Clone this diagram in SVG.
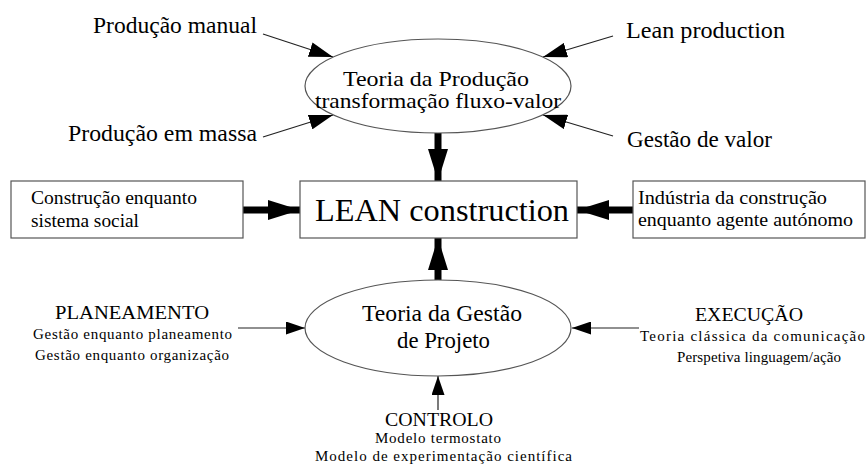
<svg xmlns="http://www.w3.org/2000/svg" width="867" height="470" viewBox="0 0 867 470" font-family="'Liberation Serif', serif">
<defs>
<style>
text{font-family:'Liberation Serif','Times New Roman',serif;fill:#000}
.node{fill:#fff;stroke:#555;stroke-width:1.2}
.thin{stroke:#222;stroke-width:1.2;fill:none}
.thick{stroke:#000;stroke-width:7;fill:none}
.big{font-size:23.5px}
.ell{font-size:21px}
.box{font-size:19.5px}
.hd{font-size:18px}
.sm{font-size:15px}
</style>
<marker id="ahl" markerWidth="24" markerHeight="15" refX="24" refY="7.5" orient="auto" markerUnits="userSpaceOnUse">
<path d="M0,0 L24,7.5 L0,15 Z" fill="#000"/>
</marker>
<marker id="ah" markerWidth="19" markerHeight="13" refX="19" refY="6.5" orient="auto" markerUnits="userSpaceOnUse">
<path d="M0,0 L19,6.5 L0,13 Z" fill="#000"/>
</marker>
<marker id="ahb" markerWidth="32" markerHeight="20" refX="32" refY="10" orient="auto" markerUnits="userSpaceOnUse">
<path d="M0,0 L32,10 L0,20 Z" fill="#000"/>
</marker>
</defs>
<rect width="867" height="470" fill="#fff"/>

<g id="connectors">
<line class="thin" x1="263" y1="34" x2="333" y2="57" marker-end="url(#ahl)"/>
<line class="thin" x1="263" y1="137" x2="333" y2="115" marker-end="url(#ahl)"/>
<line class="thin" x1="613" y1="36" x2="543" y2="57" marker-end="url(#ahl)"/>
<line class="thin" x1="613" y1="136" x2="543" y2="115" marker-end="url(#ahl)"/>
<line class="thick" x1="438" y1="133" x2="438" y2="181" marker-end="url(#ahb)"/>
<line class="thick" x1="438" y1="280" x2="438" y2="238" marker-end="url(#ahb)"/>
<line class="thick" x1="243" y1="210" x2="300" y2="210" marker-end="url(#ahb)"/>
<line class="thick" x1="633" y1="210" x2="577" y2="210" marker-end="url(#ahb)"/>
<line class="thin" x1="238" y1="328" x2="305" y2="328" marker-end="url(#ah)"/>
<line class="thin" x1="639" y1="328" x2="572" y2="328" marker-end="url(#ah)"/>
<line class="thin" x1="438" y1="410" x2="438" y2="376" marker-end="url(#ah)"/>
</g>

<g id="teoria-producao">
<ellipse class="node" cx="438" cy="86" rx="133" ry="47"/>
<text class="ell" x="343" y="86" textLength="186" lengthAdjust="spacingAndGlyphs">Teoria da Produção</text>
<text class="ell" x="315" y="108" textLength="246" lengthAdjust="spacingAndGlyphs">transformação fluxo-valor</text>
</g>

<g id="producao-manual"><text class="big" x="93" y="33" textLength="164" lengthAdjust="spacingAndGlyphs">Produção manual</text></g>
<g id="lean-production"><text class="big" x="626" y="38" textLength="159" lengthAdjust="spacingAndGlyphs">Lean production</text></g>
<g id="producao-massa"><text class="big" x="68" y="141" textLength="189" lengthAdjust="spacingAndGlyphs">Produção em massa</text></g>
<g id="gestao-valor"><text class="big" x="627" y="147" textLength="145" lengthAdjust="spacingAndGlyphs">Gestão de valor</text></g>

<g id="lean-construction">
<rect class="node" x="300" y="181" width="277" height="57"/>
<text x="315" y="221" font-size="32" textLength="254" lengthAdjust="spacingAndGlyphs">LEAN construction</text>
</g>

<g id="construcao-social">
<rect class="node" x="11" y="181" width="232" height="57"/>
<text class="box" x="31" y="204" textLength="166" lengthAdjust="spacingAndGlyphs">Construção enquanto</text>
<text class="box" x="31" y="227" textLength="108" lengthAdjust="spacingAndGlyphs">sistema social</text>
</g>

<g id="industria-construcao">
<rect class="node" x="633" y="181" width="232" height="57"/>
<text class="box" x="638" y="204" textLength="189" lengthAdjust="spacingAndGlyphs">Indústria da construção</text>
<text class="box" x="638" y="226" textLength="215" lengthAdjust="spacingAndGlyphs">enquanto agente autónomo</text>
</g>

<g id="teoria-gestao">
<ellipse class="node" cx="438" cy="328" rx="133" ry="48"/>
<text class="big" x="362" y="321" textLength="160" lengthAdjust="spacingAndGlyphs">Teoria da Gestão</text>
<text class="big" x="397" y="348" textLength="93" lengthAdjust="spacingAndGlyphs">de Projeto</text>
</g>

<g id="planeamento">
<text class="hd" x="55" y="319" textLength="154" lengthAdjust="spacingAndGlyphs">PLANEAMENTO</text>
<text class="sm" x="33" y="339" textLength="199" lengthAdjust="spacing">Gestão enquanto planeamento</text>
<text class="sm" x="35" y="360" textLength="194" lengthAdjust="spacing">Gestão enquanto organização</text>
</g>

<g id="execucao">
<text class="hd" x="695" y="321" textLength="108" lengthAdjust="spacingAndGlyphs">EXECUÇÃO</text>
<text class="sm" x="640" y="341" textLength="225" lengthAdjust="spacing">Teoria clássica da comunicação</text>
<text class="sm" x="677" y="362" textLength="164" lengthAdjust="spacing">Perspetiva linguagem/ação</text>
</g>

<g id="controlo">
<text class="hd" x="385" y="426" textLength="108" lengthAdjust="spacingAndGlyphs">CONTROLO</text>
<text class="sm" x="375" y="443" textLength="126" lengthAdjust="spacing">Modelo termostato</text>
<text class="sm" x="315" y="461" textLength="257" lengthAdjust="spacing">Modelo de experimentação científica</text>
</g>
</svg>
